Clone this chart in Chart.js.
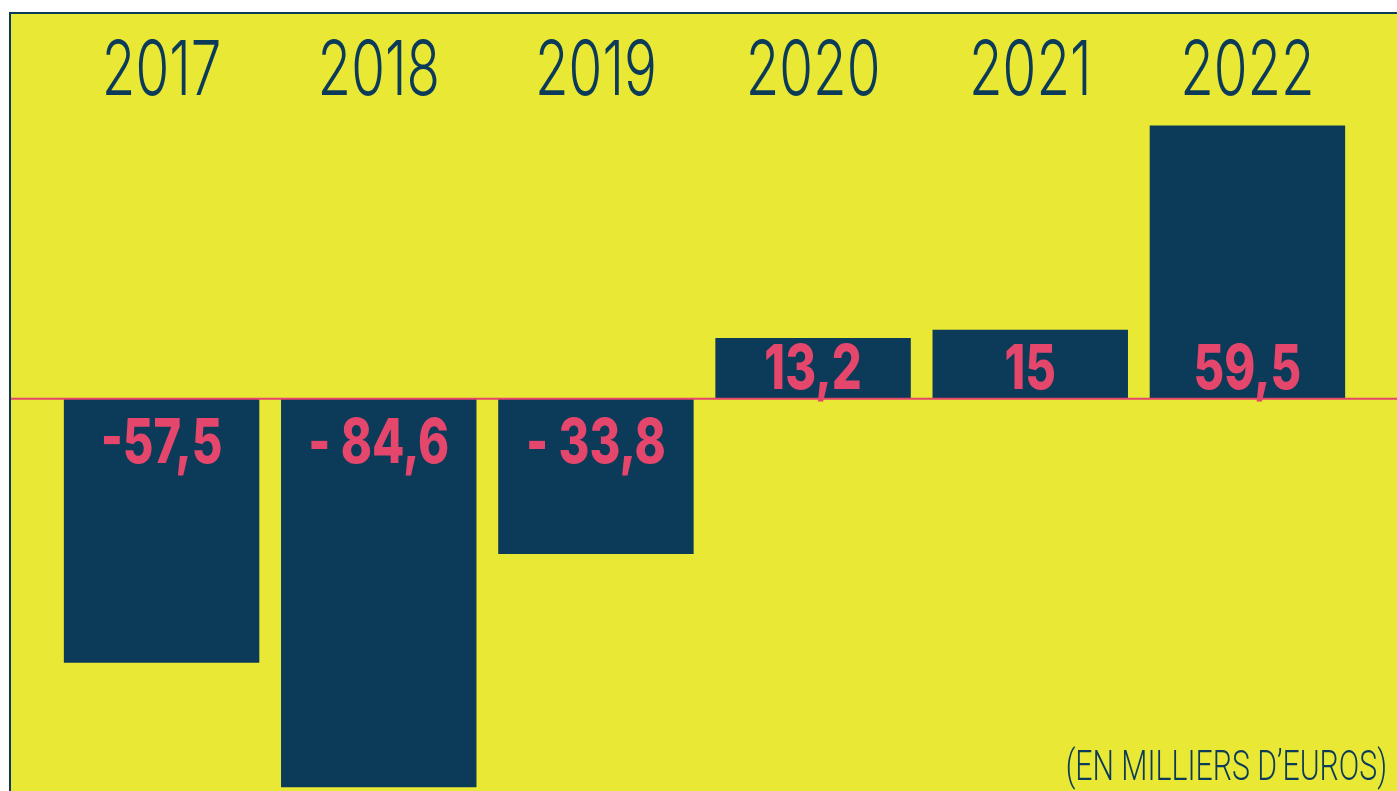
<!DOCTYPE html>
<html>
<head>
<meta charset="utf-8">
<script src="https://cdn.jsdelivr.net/npm/chart.js@4/dist/chart.umd.min.js"></script>
<style>
  body { margin: 0; background: #fff; }
  canvas { display: block; }
</style>
</head>
<body>
<canvas id="resultChart" width="1397" height="791"></canvas>
<script>
// résultat net par année (en milliers d'euros)
const years = ['2017', '2018', '2019', '2020', '2021', '2022'];
const results = [-57.5, -84.6, -33.8, 13.2, 15, 59.5];
const valueLabels = ['-57,5', '- 84,6', '- 33,8', '13,2', '15', '59,5'];
const note = '(EN MILLIERS D\u2019EUROS)';

const navy = '#0b3b58';
const yellow = '#e8e835';
const pink = '#e5466b';

// squeezed text, the original uses a condensed face
function drawText(ctx, text, x, y, font, color, sx, align) {
  ctx.save();
  ctx.font = font;
  ctx.fillStyle = color;
  ctx.textBaseline = 'alphabetic';
  ctx.textAlign = align || 'center';
  ctx.translate(x, y);
  ctx.scale(sx, 1);
  ctx.fillText(text, 0, 0);
  ctx.restore();
}

const decor = {
  id: 'decor',
  beforeDraw(chart) {
    const ctx = chart.ctx;
    const w = chart.width, h = chart.height;
    ctx.save();
    ctx.fillStyle = '#ffffff';
    ctx.fillRect(0, 0, w, h);
    ctx.fillStyle = navy;
    ctx.fillRect(9, 12, w - 9, h - 12);
    ctx.fillStyle = yellow;
    ctx.fillRect(11, 14, w - 11, h - 14);
    ctx.restore();
  },
  afterDatasetsDraw(chart) {
    const ctx = chart.ctx;
    const x = chart.scales.x, y = chart.scales.y;
    const y0 = y.getPixelForValue(0);

    ctx.save();
    ctx.strokeStyle = pink;
    ctx.lineWidth = 2;
    ctx.beginPath();
    ctx.moveTo(11, y0);
    ctx.lineTo(chart.width, y0);
    ctx.stroke();
    ctx.restore();

    years.forEach((yr, i) => {
      const cx = x.getPixelForValue(i);
      drawText(ctx, yr, cx, 95, '300 76px Inter', navy, 0.72);
      const v = results[i];
      const by = v < 0 ? y0 + 64 : y0 - 10;
      drawText(ctx, valueLabels[i], cx, by, '800 62px Inter', pink, 0.76);
    });

    drawText(ctx, note, 1387, 780, '300 42px Roboto', navy, 0.72, 'right');
  }
};

new Chart(document.getElementById('resultChart'), {
  type: 'bar',
  data: {
    labels: years,
    datasets: [{
      label: 'Résultat',
      data: results,
      backgroundColor: navy,
      borderWidth: 0,
      categoryPercentage: 0.9,
      barPercentage: 1
    }]
  },
  options: {
    responsive: false,
    animation: false,
    layout: { padding: { left: 53, right: 41, top: 114, bottom: 2 } },
    scales: {
      x: { display: false },
      y: { display: false, min: -85, max: 62 }
    },
    plugins: {
      legend: { display: false },
      tooltip: { enabled: false }
    }
  },
  plugins: [decor]
});
</script>
</body>
</html>
